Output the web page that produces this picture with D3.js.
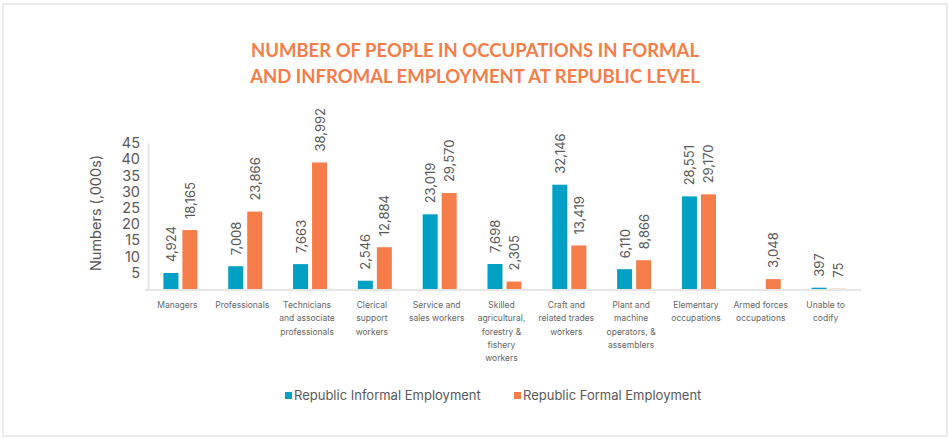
<!DOCTYPE html>
<html>
<head>
<meta charset="utf-8">
<script src="https://cdn.jsdelivr.net/npm/d3@7"></script>
<style>
  body { margin: 0; background: #fff; }
  svg text { font-family: Inter, "Noto Sans", sans-serif; }
</style>
</head>
<body>
<div id="chart"></div>
<script>
// data (thousands)
var categories = [
  ["Managers"],
  ["Professionals"],
  ["Technicians", "and associate", "professionals"],
  ["Clerical", "support", "workers"],
  ["Service and", "sales workers"],
  ["Skilled", "agricultural,", "forestry &", "fishery", "workers"],
  ["Craft and", "related trades", "workers"],
  ["Plant and", "machine", "operators, &", "assemblers"],
  ["Elementary", "occupations"],
  ["Armed forces", "occupations"],
  ["Unable to", "codify"]
]
var informal = [4.924, 7.008, 7.663, 2.546, 23.019, 7.698, 32.146, 6.110, 28.551, null, 0.397]
var formal = [18.165, 23.866, 38.992, 12.884, 29.570, 2.305, 13.419, 8.866, 29.170, 3.048, 0.075]
var informalLabels = ["4,924", "7,008", "7,663", "2,546", "23,019", "7,698", "32,146", "6,110", "28,551", "", "397"]
var formalLabels = ["18,165", "23,866", "38,992", "12,884", "29,570", "2,305", "13,419", "8,866", "29,170", "3,048", "75"]
var yTicks = [5, 10, 15, 20, 25, 30, 35, 40, 45]
var seriesNames = ["Republic Informal Employment", "Republic Formal Employment"]

var width = 949, height = 438
var blue = "#00a0c4", orange = "#f47d4a", textGray = "#595959"

var svg = d3.select("#chart").append("svg")
    .attr("width", width)
    .attr("height", height)

// frame
svg.append("rect")
  .attr("x", 3).attr("y", 4)
  .attr("width", 944).attr("height", 432)
  .attr("fill", "none")
  .attr("stroke", "#ebebeb")
  .attr("stroke-width", 2)

// title
var title = svg.append("text")
  .attr("x", 475)
  .attr("text-anchor", "middle")
  .style("font-family", "Lato, sans-serif")
  .style("font-weight", "bold")
  .style("font-size", "18.5px")
  .attr("fill", orange)
title.append("tspan").attr("x", 475).attr("y", 57).text("NUMBER OF PEOPLE IN OCCUPATIONS IN FORMAL")
title.append("tspan").attr("x", 475).attr("y", 83).text("AND INFROMAL EMPLOYMENT AT REPUBLIC LEVEL")

var plotLeft = 148, plotRight = 861, plotTop = 143, plotBottom = 289

var x = d3.scaleBand()
  .domain(d3.range(categories.length))
  .range([plotLeft, plotRight])

var y = d3.scaleLinear()
  .domain([0, 45])
  .range([plotBottom, plotTop])

// y axis
var yAxis = svg.append("g")
  .attr("transform", "translate(" + plotLeft + ",0)")
  .call(d3.axisLeft(y).tickValues(yTicks).tickSize(0).tickPadding(8))
yAxis.select(".domain").attr("stroke", "#e6e6e6").attr("stroke-width", 2)
yAxis.selectAll("text")
  .attr("fill", textGray)
  .style("font-size", "14.5px")
  .style("font-family", "Inter, sans-serif")

svg.append("text")
  .attr("transform", "translate(101,213) rotate(-90)")
  .attr("text-anchor", "middle")
  .attr("fill", textGray)
  .style("font-size", "14.5px")
  .text("Numbers (,000s)")

// baseline
svg.append("line")
  .attr("x1", plotLeft - 3).attr("x2", plotRight)
  .attr("y1", plotBottom + 1).attr("y2", plotBottom + 1)
  .attr("stroke", "#e6e6e6")
  .attr("stroke-width", 2)

var barW = 15, gap = 4

function drawSeries(values, labels, color, offset) {
  var g = svg.append("g")
  values.forEach(function(v, i) {
    if (v == null) return
    var cx = x(i) + x.bandwidth() / 2 + offset
    g.append("rect")
      .attr("x", cx - barW / 2)
      .attr("y", y(v))
      .attr("width", barW)
      .attr("height", plotBottom - y(v))
      .attr("fill", color)
    if (labels[i]) {
      g.append("text")
        .attr("transform", "translate(" + (cx + 5) + "," + (y(v) - 11) + ") rotate(-90)")
        .attr("fill", textGray)
        .style("font-size", "13px")
        .text(labels[i])
    }
  })
}
drawSeries(informal, informalLabels, blue, -(barW + gap) / 2)
drawSeries(formal, formalLabels, orange, (barW + gap) / 2)

// category labels
categories.forEach(function(lines, i) {
  var t = svg.append("text")
    .attr("text-anchor", "middle")
    .attr("fill", "#666")
    .style("font-size", "8.5px")
  lines.forEach(function(l, j) {
    t.append("tspan")
      .attr("x", x(i) + x.bandwidth() / 2 - 3)
      .attr("y", 308 + j * 13.3)
      .text(l)
  })
})

// legend
var legend = [[285, blue], [514, orange]]
legend.forEach(function(d, i) {
  svg.append("rect")
    .attr("x", d[0]).attr("y", 392)
    .attr("width", 7).attr("height", 7)
    .attr("fill", d[1])
  svg.append("text")
    .attr("x", d[0] + 9).attr("y", 400)
    .attr("fill", textGray)
    .style("font-size", "13px")
    .text(seriesNames[i])
})
</script>
</body>
</html>
